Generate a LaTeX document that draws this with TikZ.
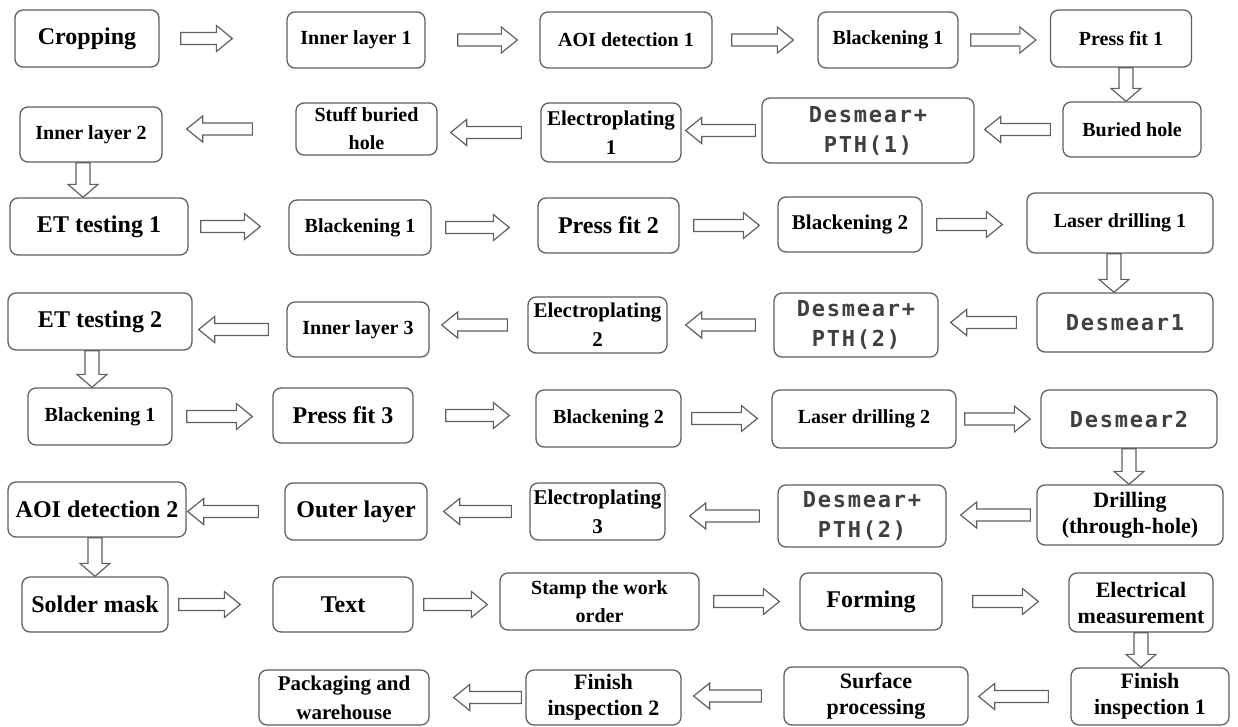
\documentclass[tikz,border=0pt]{standalone}
\usepackage{fontspec}
\setmainfont{Liberation Serif}
\newfontfamily\dsfont{DejaVu Sans Mono}[LetterSpace=8]
\usetikzlibrary{calc}

\tikzset{
  proc/.style={draw=gray!75!black, line width=1.3pt, rounded corners=8pt, align=center, inner sep=1pt, fill=white},
  sz/.style 2 args={minimum width=#1pt, minimum height=#2pt},
  t20/.style={font=\bfseries\fontsize{20}{28}\selectfont},
  t21/.style={font=\bfseries\fontsize{21}{29}\selectfont},
  t22/.style={font=\bfseries\fontsize{22}{26}\selectfont},
  t24/.style={font=\bfseries\fontsize{24}{26}\selectfont},
  ds/.style={font=\dsfont\bfseries\fontsize{22}{30}\selectfont, text=black!75},
  flowarr/.style={draw=gray!75!black, line width=1.2pt, fill=white}
}

% hollow block arrows between two boxes
\newcommand{\goright}[2]{\draw[flowarr] let \p1=(#1), \p2=(#2) in (\x1,\y1+6pt) -- (\x2-16pt,\y1+6pt) -- (\x2-16pt,\y1+13pt) -- (\x2,\y1) -- (\x2-16pt,\y1-13pt) -- (\x2-16pt,\y1-6pt) -- (\x1,\y1-6pt) -- cycle;}
\newcommand{\goleft}[2]{\draw[flowarr] let \p1=(#1), \p2=(#2) in (\x1,\y1+6pt) -- (\x2+16pt,\y1+6pt) -- (\x2+16pt,\y1+13pt) -- (\x2,\y1) -- (\x2+16pt,\y1-13pt) -- (\x2+16pt,\y1-6pt) -- (\x1,\y1-6pt) -- cycle;}
\newcommand{\godown}[2]{\draw[flowarr] let \p1=(#1), \p2=(#2) in (\x1-7pt,\y1) -- (\x1-7pt,\y2+13pt) -- (\x1-15pt,\y2+13pt) -- (\x1,\y2) -- (\x1+15pt,\y2+13pt) -- (\x1+7pt,\y2+13pt) -- (\x1+7pt,\y1) -- cycle;}

\begin{document}
\begin{tikzpicture}[x=1pt, y=-1pt]
\useasboundingbox (0,0) rectangle (1238,726);

% row 1
\node[proc, sz={144}{57}, t24] (crop) at (87,38.5) {Cropping};
\node[proc, sz={138}{56}, t20] (in1) at (356,40) {Inner layer 1};
\node[proc, sz={172}{56}, t20] (aoi1) at (626,40) {AOI detection 1};
\node[proc, sz={140}{56}, t20] (bl1) at (888,40) {Blackening 1};
\node[proc, sz={141}{57}, t20] (pf1) at (1121,38.5) {Press fit 1};

% row 2
\node[proc, sz={142}{55}, t20] (in2) at (91,134.5) {Inner layer 2};
\node[proc, sz={141}{52}, t20] (sbh) at (366.5,129) {Stuff buried\\hole};
\node[proc, sz={140}{59}, t21] (ep1) at (611,132.5) {Electroplating\\1};
\node[proc, sz={212}{65}, ds] (dp1) at (868,130.5) {Desmear+\\PTH(1)};
\node[proc, sz={138}{55}, t20] (bh) at (1132,129.5) {Buried hole};

% row 3
\node[proc, sz={178}{57}, t24] (et1) at (99,226.5) {ET testing 1};
\node[proc, sz={142}{55}, t20] (bl1b) at (360,227.5) {Blackening 1};
\node[proc, sz={141}{55}, t24] (pf2) at (608.5,225.5) {Press fit 2};
\node[proc, sz={144}{55}, t21] (bl2) at (850,224.5) {Blackening 2};
\node[proc, sz={186}{60}, t20] (ld1) at (1120,223) {Laser drilling 1};

% row 4
\node[proc, sz={176}{59}, ds] (ds1) at (1125,322.5) {Desmear1};
\node[proc, sz={164}{64}, ds] (dp2) at (856,325) {Desmear+\\PTH(2)};
\node[proc, sz={139}{56}, t21] (ep2) at (597.5,325) {Electroplating\\2};
\node[proc, sz={142}{55}, t20] (in3) at (358,329.5) {Inner layer 3};
\node[proc, sz={184}{57}, t24] (et2) at (100,321.5) {ET testing 2};

% row 5
\node[proc, sz={144}{57}, t20] (bl1c) at (100,416.5) {Blackening 1};
\node[proc, sz={140}{55}, t24] (pf3) at (343,415.5) {Press fit 3};
\node[proc, sz={145}{57}, t20] (bl2b) at (608.5,418.5) {Blackening 2};
\node[proc, sz={184}{58}, t20] (ld2) at (864,419) {Laser drilling 2};
\node[proc, sz={176}{58}, ds] (ds2) at (1129,419) {Desmear2};

% row 6
\node[proc, sz={186}{60}, t22] (dth) at (1130,515) {Drilling\\(through-hole)};
\node[proc, sz={168}{62}, ds] (dp3) at (862,516) {Desmear+\\PTH(2)};
\node[proc, sz={135}{57}, t21] (ep3) at (597.5,511.5) {Electroplating\\3};
\node[proc, sz={142}{57}, t24] (out) at (356,511.5) {Outer layer};
\node[proc, sz={178}{55}, t24] (aoi2) at (97,509.5) {AOI detection 2};

% row 7
\node[proc, sz={146}{55}, t24] (sm) at (95,604.5) {Solder mask};
\node[proc, sz={140}{55}, t24] (txt) at (343,604.5) {Text};
\node[proc, sz={199}{57}, t20] (stamp) at (599.5,601.5) {Stamp the work\\order};
\node[proc, sz={142}{57}, t24] (form) at (871,601.5) {Forming};
\node[proc, sz={144}{59}, t22] (elm) at (1141,602.5) {Electrical\\measurement};

% row 8
\node[proc, sz={158}{57}, t22] (fi1) at (1150,696.5) {Finish\\inspection 1};
\node[proc, sz={184}{58}, t22] (surf) at (876,696) {Surface\\processing};
\node[proc, sz={155}{55}, t22] (fi2) at (603.5,697.5) {Finish\\inspection 2};
\node[proc, sz={170}{55}, t21] (pack) at (344,697.5) {Packaging and\\warehouse};

% arrows
\goright{[xshift=21pt]crop.east}{[xshift=-54pt]in1.west}
\goright{[xshift=32pt]in1.east}{[xshift=-22pt]aoi1.west}
\goright{[xshift=19pt]aoi1.east}{[xshift=-24pt]bl1.west}
\goright{[xshift=12pt]bl1.east}{[xshift=-14pt]pf1.west}
\godown{[xshift=5pt]pf1.south}{bh.north}
\goleft{[xshift=-12pt]bh.west}{[xshift=10pt]dp1.east}
\goleft{[xshift=-6pt]dp1.west}{[xshift=4pt]ep1.east}
\goleft{[xshift=-19pt]ep1.west}{[xshift=13pt]sbh.east}
\goleft{[xshift=-43pt]sbh.west}{[xshift=24pt]in2.east}
\godown{[xshift=-8pt]in2.south}{et1.north}

\goright{[xshift=12pt]et1.east}{[xshift=-28pt]bl1b.west}
\goright{[xshift=14pt]bl1b.east}{[xshift=-28pt]pf2.west}
\goright{[xshift=14pt]pf2.east}{[xshift=-18pt]bl2.west}
\goright{[xshift=14pt]bl2.east}{[xshift=-24pt]ld1.west}
\godown{[xshift=-6pt]ld1.south}{ds1.north}
\goleft{[xshift=-20pt]ds1.west}{[xshift=12pt]dp2.east}
\goleft{[xshift=-18pt]dp2.west}{[xshift=18pt]ep2.east}
\goleft{[xshift=-20pt]ep2.west}{[xshift=12pt]in3.east}
\goleft{[xshift=-18pt]in3.west}{[xshift=6pt]et2.east}
\godown{[xshift=-8pt]et2.south}{bl1c.north}

\goright{[xshift=14pt]bl1c.east}{[xshift=-20pt]pf3.west}
\goright{[xshift=32pt]pf3.east}{[xshift=-26pt]bl2b.west}
\goright{[xshift=10pt]bl2b.east}{[xshift=-14pt]ld2.west}
\goright{[xshift=8pt]ld2.east}{[xshift=-10pt]ds2.west}
\godown{ds2.south}{dth.north}
\goleft{[xshift=-6pt]dth.west}{[xshift=14pt]dp3.east}
\goleft{[xshift=-18pt]dp3.west}{[xshift=24pt]ep3.east}
\goleft{[xshift=-18pt]ep3.west}{[xshift=16pt]out.east}
\goleft{[xshift=-26pt]out.west}{[xshift=1pt]aoi2.east}
\godown{[xshift=-2pt]aoi2.south}{sm.north}

\goright{[xshift=10pt]sm.east}{[xshift=-32pt]txt.west}
\goright{[xshift=10pt]txt.east}{[xshift=-12pt]stamp.west}
\goright{[xshift=14pt]stamp.east}{[xshift=-20pt]form.west}
\goright{[xshift=30pt]form.east}{[xshift=-30pt]elm.west}
\godown{elm.south}{fi1.north}
\goleft{[xshift=-22pt]fi1.west}{[xshift=10pt]surf.east}
\goleft{[xshift=-22pt]surf.west}{[xshift=12pt]fi2.east}
\goleft{[xshift=-4pt]fi2.west}{[xshift=24pt]pack.east}
\end{tikzpicture}
\end{document}
